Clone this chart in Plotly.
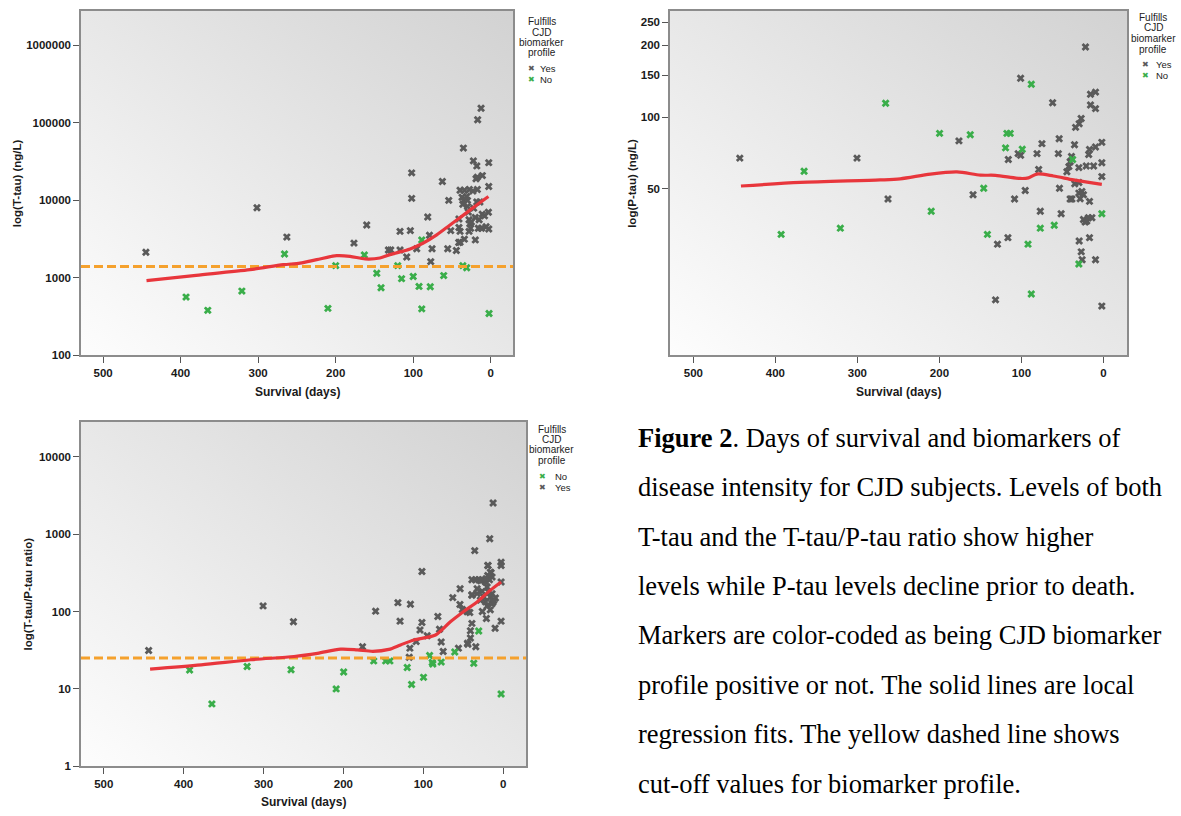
import base64
import plotly.graph_objects as go

# ---------------- DATA ----------------
# Panel 1: T-tau (ng/L) vs survival days
TTAU_YES_DAYS = [444.8, 301.5, 263, 176.4, 160, 132, 129, 117, 117, 108.4, 103.7, 102, 102, 95.5,
                 81.3, 79, 77.4, 75.7, 62.4, 55.5, 54.2, 51.6, 44.4, 41.3, 39.6, 39.6, 41, 41, 35.3,
                 39.6, 34, 37, 35, 34, 30, 30, 29, 28, 27, 26, 28, 27.6, 23, 22.4, 18, 19.9, 19,
                 17.3, 10.8, 17.3, 16.9, 12.5, 18, 14, 20, 15, 11, 16, 12, 6, 2.6, 2.6, 3, 2.6,
                 22, 25, 8, 31, 36]
TTAU_YES_VAL = [2140, 8050, 3360, 2810, 4820, 2290, 2290, 2290, 3980, 1860, 4070, 22650, 10620, 2380,
                6110, 3550, 1620, 2380, 17540, 2380, 10000, 4070, 2260, 2860, 2880, 3980, 4470, 5750, 47300,
                13490, 13490, 10960, 10000, 3160, 10000, 8320, 7080, 5620, 5010, 4370, 3980, 13800, 13180,
                32360, 27860, 3090, 19050, 19950, 20890, 13800, 109600, 154900, 9550, 9550, 6030, 5620,
                6610, 4370, 4370, 4570, 30690, 15140, 7020, 4270, 7940, 5250, 6310, 11220, 8910]
TTAU_NO_DAYS = [393, 365, 321, 266, 210, 200, 163, 147, 141.5, 120, 115, 100, 92.5, 89, 89, 78, 60.7,
                36, 31, 2.2]
TTAU_NO_VAL = [565, 381, 675, 2030, 404, 1440, 1970, 1150, 745, 1440, 977, 1040, 776, 3090, 398, 767,
               1070, 1440, 1350, 347]
TTAU_FIT_DAYS = [444, 380, 310.6, 267.6, 246, 224.5, 198.7, 181.5, 162, 143, 130, 104, 87, 69.7, 52.5,
                 35.3, 18, 3]
TTAU_FIT_VAL = [923, 1080, 1276, 1479, 1549, 1718, 1932, 1897, 1754, 1803, 1995, 2355, 2818, 3589, 4820,
                6457, 8710, 11220]
TTAU_CUTOFF = 1400

# Panel 2: P-tau (ng/L)
PTAU_YES_DAYS = [443.4, 300.5, 262.7, 176.2, 159, 131.6, 129.2, 116.5, 116, 108.4, 104, 101, 101, 95.4,
                 81, 79, 77, 75, 62, 55, 54, 53.6, 51.6, 44.6, 42.2, 40.6, 39, 35.3, 35, 34, 30, 30,
                 29.6, 29.6, 27.2, 27.1, 26, 21.9, 21, 17, 18, 17, 17, 15.8, 15.8, 12, 9.7, 9.7, 9.7,
                 9.7, 2, 2, 2, 2, 30, 26.3, 24.4, 28.4, 38.5, 40.6, 24.4, 20.3, 14.1, 18.3, 22.3]
PTAU_YES_VAL = [67.3, 67.3, 45.3, 79.5, 47.2, 17.1, 29.3, 31.2, 66.4, 45.3, 70.3, 69.2, 145.7, 49.2,
                70.3, 60.3, 40.3, 77.4, 115, 70.3, 81.2, 50.3, 39.3, 59, 62, 65, 68.4, 76.6, 52.5, 90.6,
                53.2, 61.4, 93.8, 30.2, 98.7, 27.2, 25.2, 197, 62.4, 73.1, 69.7, 44.3, 31.2, 124.7, 112.5,
                62.4, 127.4, 108.6, 75, 25.2, 78.4, 64.4, 56.3, 16.1, 48, 48.8, 47.2, 45.4, 45.3, 45.3,
                37.2, 36.6, 37.8, 37.8, 36.3]
PTAU_NO_DAYS = [393, 365, 320.8, 265.6, 210, 199.8, 162.4, 146, 141.5, 119.4, 117.7, 113.7, 99, 92, 88,
                88, 77, 60, 37.6, 30, 2]
PTAU_NO_VAL = [32.2, 59.3, 34.2, 114.4, 40.3, 85.5, 84.4, 50.3, 32.2, 74.3, 85.5, 85.5, 73.3, 29.3,
               137.5, 18.1, 34.2, 35.2, 66.4, 24.2, 39.3]
PTAU_FIT_DAYS = [442, 369.6, 272.4, 247.8, 211, 178.6, 150, 131.7, 101.5, 91.4, 81.2, 61, 36.5, 2]
PTAU_FIT_VAL = [51.4, 53.2, 54.5, 55.1, 57.7, 58.9, 57.1, 57.0, 55.3, 55.6, 57.7, 56.6, 54.5, 52.2]

# Panel 3: T-tau / P-tau ratio
RATIO_YES_DAYS = [443.8, 300.5, 262.5, 176, 159.6, 131.7, 129, 117.5, 116.7, 116, 108.8, 104, 101.6,
                  101.6, 95, 81.7, 79.6, 77.5, 75, 63, 55.9, 54, 51, 53.8, 44.6, 44, 40.9, 40.9, 39, 39,
                  39, 35.5, 34.2, 39, 34.6, 30.5, 28, 26.3, 22, 17, 20.9, 19.2, 18.8, 15, 16.7, 12.5, 10,
                  2.5, 2.5, 2.5, 2.5, 45, 41.7, 26, 20, 16, 14, 32.5, 26.3, 20, 18, 13.8, 32.5, 24, 15.9,
                  11.7, 22, 28.4, 19.2, 15.9, 13.8, 21.3, 9.6, 12.5]
RATIO_YES_VAL = [31.3, 118, 73.6, 35, 101, 130, 75, 25.7, 33.6, 124, 40.8, 57.6, 329, 72, 48.6, 86, 59,
                 40.4, 30.4, 151, 33.6, 123, 106, 197, 38.9, 37.8, 45.5, 56.4, 70.2, 162, 165, 611, 35,
                 257, 257, 257, 250, 257, 240, 257, 81, 393, 393, 316, 871, 2518, 60.6, 432, 393, 240,
                 75, 99, 97, 100, 118, 105, 126, 197, 182, 207, 178, 170, 170, 154, 154, 140, 133, 140,
                 292, 322, 278, 265, 149, 133]
RATIO_NO_DAYS = [392.5, 364.6, 320.5, 265.5, 209, 199.6, 162, 147, 141.7, 120, 114.6, 99.6, 92, 88.7,
                 88, 77.5, 60.5, 36.7, 30.5, 2.5]
RATIO_NO_VAL = [17.5, 6.4, 19.5, 17.7, 10, 16.5, 23, 23, 23, 18.9, 11.4, 14.1, 27, 22, 21, 22.2, 30,
                21.5, 56, 8.6]
RATIO_FIT_DAYS = [442, 378, 316, 261.7, 232.5, 203.4, 182.5, 163, 143, 128.4, 111.6, 84.6, 66, 49.3,
                  32.6, 16, 2.5]
RATIO_FIT_VAL = [18, 20.4, 23.8, 26.2, 28.8, 32.6, 31.9, 30.6, 32.4, 37, 42.9, 49.7, 73.6, 100, 133,
                 187.5, 240]
RATIO_CUTOFF = 25

X_TICKS = [500, 400, 300, 200, 100, 0]
X_RANGE = [528.5, -28.7]
Y1_TICKS = [100, 1000, 10000, 100000, 1000000]
Y2_TICKS = [50, 100, 150, 200, 250]
Y3_TICKS = [1, 10, 100, 1000, 10000]

CAPTION = [
    "<b>Figure 2</b>. Days of survival and biomarkers of",
    "disease intensity for CJD subjects. Levels of both",
    "T-tau and the T-tau/P-tau ratio show higher",
    "levels while P-tau levels decline prior to death.",
    "Markers are color-coded as being CJD biomarker",
    "profile positive or not. The solid lines are local",
    "regression fits. The yellow dashed line shows",
    "cut-off values for biomarker profile.",
]

# ---------------- STYLE ----------------
W, H = 1181, 816
GRAY = "#5a5a5a"
GREEN = "#3aae4a"
RED = "#e8363c"
ORANGE = "#f5a12d"
SANS = "Liberation Sans, Arial, sans-serif"


def fx(p):
    return p / W


def fy(p):
    return 1 - p / H


panels = [
    dict(x0=81, x1=513, y0=11, y1=358, yr=[2, 6.445], yt=Y1_TICKS),
    dict(x0=670, x1=1127, y0=11, y1=358, yr=[1.0, 2.446], yt=Y2_TICKS),
    dict(x0=81, x1=526, y0=425, y1=772, yr=[0, 4.449], yt=Y3_TICKS),
]

fig = go.Figure()
layout = dict(width=W, height=H, margin=dict(l=0, r=0, t=0, b=0),
              paper_bgcolor="white", plot_bgcolor="rgba(0,0,0,0)", showlegend=False)

tickfont = dict(family=SANS, size=11.5, color="#1a1a1a", weight="bold")
svg = ('<svg xmlns="http://www.w3.org/2000/svg" width="200" height="200" viewBox="0 0 200 200" '
       'preserveAspectRatio="none"><defs><linearGradient id="g" x1="0" y1="1" x2="1" y2="0">'
       '<stop offset="0" stop-color="#fdfdfd"/><stop offset="1" stop-color="#d2d2d2"/>'
       '</linearGradient></defs><rect width="200" height="200" fill="url(#g)"/></svg>')
src = "data:image/svg+xml;base64," + base64.b64encode(svg.encode()).decode()
images = []

for i, p in enumerate(panels):
    n = "" if i == 0 else str(i + 1)
    layout["xaxis" + n] = dict(
        domain=[fx(p["x0"]), fx(p["x1"])], range=X_RANGE, anchor="y" + n,
        tickvals=X_TICKS, ticktext=[str(v) for v in X_TICKS], ticks="outside", ticklen=6,
        tickwidth=1.2, tickcolor="#555", showline=True, linecolor="#8c8c8c", linewidth=1.5,
        mirror=True, showgrid=False, zeroline=False, tickfont=tickfont)
    layout["yaxis" + n] = dict(
        domain=[fy(p["y1"]), fy(p["y0"])], range=p["yr"], type="log", anchor="x" + n,
        tickvals=p["yt"], ticktext=[str(v) for v in p["yt"]], ticks="outside", ticklen=6,
        tickwidth=1.2, tickcolor="#555", showline=True, linecolor="#8c8c8c", linewidth=1.5,
        mirror=True, showgrid=False, zeroline=False, tickfont=tickfont)
    images.append(dict(source=src, xref="x" + n + " domain", yref="y" + n + " domain", x=0, y=1,
                       sizex=1, sizey=1, xanchor="left", yanchor="top", sizing="stretch",
                       layer="below"))

layout["images"] = images

series = [
    ("", TTAU_YES_DAYS, TTAU_YES_VAL, TTAU_NO_DAYS, TTAU_NO_VAL, TTAU_FIT_DAYS, TTAU_FIT_VAL, TTAU_CUTOFF),
    ("2", PTAU_YES_DAYS, PTAU_YES_VAL, PTAU_NO_DAYS, PTAU_NO_VAL, PTAU_FIT_DAYS, PTAU_FIT_VAL, None),
    ("3", RATIO_YES_DAYS, RATIO_YES_VAL, RATIO_NO_DAYS, RATIO_NO_VAL, RATIO_FIT_DAYS, RATIO_FIT_VAL, RATIO_CUTOFF),
]

for n, yd, yv, nd, nv, fd, fv, cut in series:
    xa, ya = "x" + n, "y" + n
    fig.add_trace(go.Scatter(x=yd, y=yv, mode="markers", xaxis=xa, yaxis=ya,
                             marker=dict(symbol="x", size=7, color=GRAY, line=dict(width=0))))
    fig.add_trace(go.Scatter(x=nd, y=nv, mode="markers", xaxis=xa, yaxis=ya,
                             marker=dict(symbol="x", size=7, color=GREEN, line=dict(width=0))))
    if cut is not None:
        fig.add_trace(go.Scatter(x=X_RANGE, y=[cut, cut], mode="lines", xaxis=xa, yaxis=ya,
                                 line=dict(color=ORANGE, width=3, dash="9px,4px")))
    fig.add_trace(go.Scatter(x=fd, y=fv, mode="lines", xaxis=xa, yaxis=ya,
                             line=dict(color=RED, width=3.2, shape="spline", smoothing=0.8)))

ann = []


def add_text(x, y, text, size, family=SANS, color="#1a1a1a", xanchor="center", angle=0):
    ann.append(dict(x=fx(x), y=fy(y), xref="paper", yref="paper", text=text, showarrow=False,
                    xanchor=xanchor, yanchor="middle", textangle=angle,
                    font=dict(family=family, size=size, color=color)))


# axis titles
for cx, cy in [(297, 395), (898.5, 395), (303.5, 808)]:
    add_text(cx, cy, "<b>Survival (days)</b>", 12)
for cx, cy, t in [(17, 184.5, "log(T-tau) (ng/L)"), (631.7, 184.5, "log(P-tau) (ng/L)"),
                  (28.3, 598.5, "log(T-tau/P-tau ratio)")]:
    add_text(cx, cy, "<b>" + t + "</b>", 11.5, angle=-90)

# legends
TITLE = ["Fulfills", "CJD", "biomarker", "profile"]
legends = [
    (541.7, [22, 32.3, 42.7, 52.7], 531.7, 538.3, [("Yes", GRAY, 69.3), ("No", GREEN, 80)]),
    (1153.3, [17.3, 28, 39, 49.7], 1145.7, 1154.3, [("Yes", GRAY, 65), ("No", GREEN, 75.7)]),
    (551.7, [432.7, 442.7, 453.3, 464], 542.7, 552.7, [("No", GREEN, 480), ("Yes", GRAY, 490.7)]),
]
for cx, ys, mx, tx, items in legends:
    for t, yy in zip(TITLE, ys):
        add_text(cx, yy, t, 10, color="#222")
    for lab, col, yy in items:
        add_text(mx, yy, "\u2716", 8, family="DejaVu Sans", color=col)
        add_text(tx, yy, lab, 9.5, color="#222", xanchor="left")

# caption
for k, line in enumerate(CAPTION):
    add_text(636, 441 + 49.8 * k, line, 26.5, family="Liberation Serif, Times New Roman, serif",
             color="#000", xanchor="left")

layout["annotations"] = ann
fig.update_layout(**layout)
fig.write_html("out.html")
